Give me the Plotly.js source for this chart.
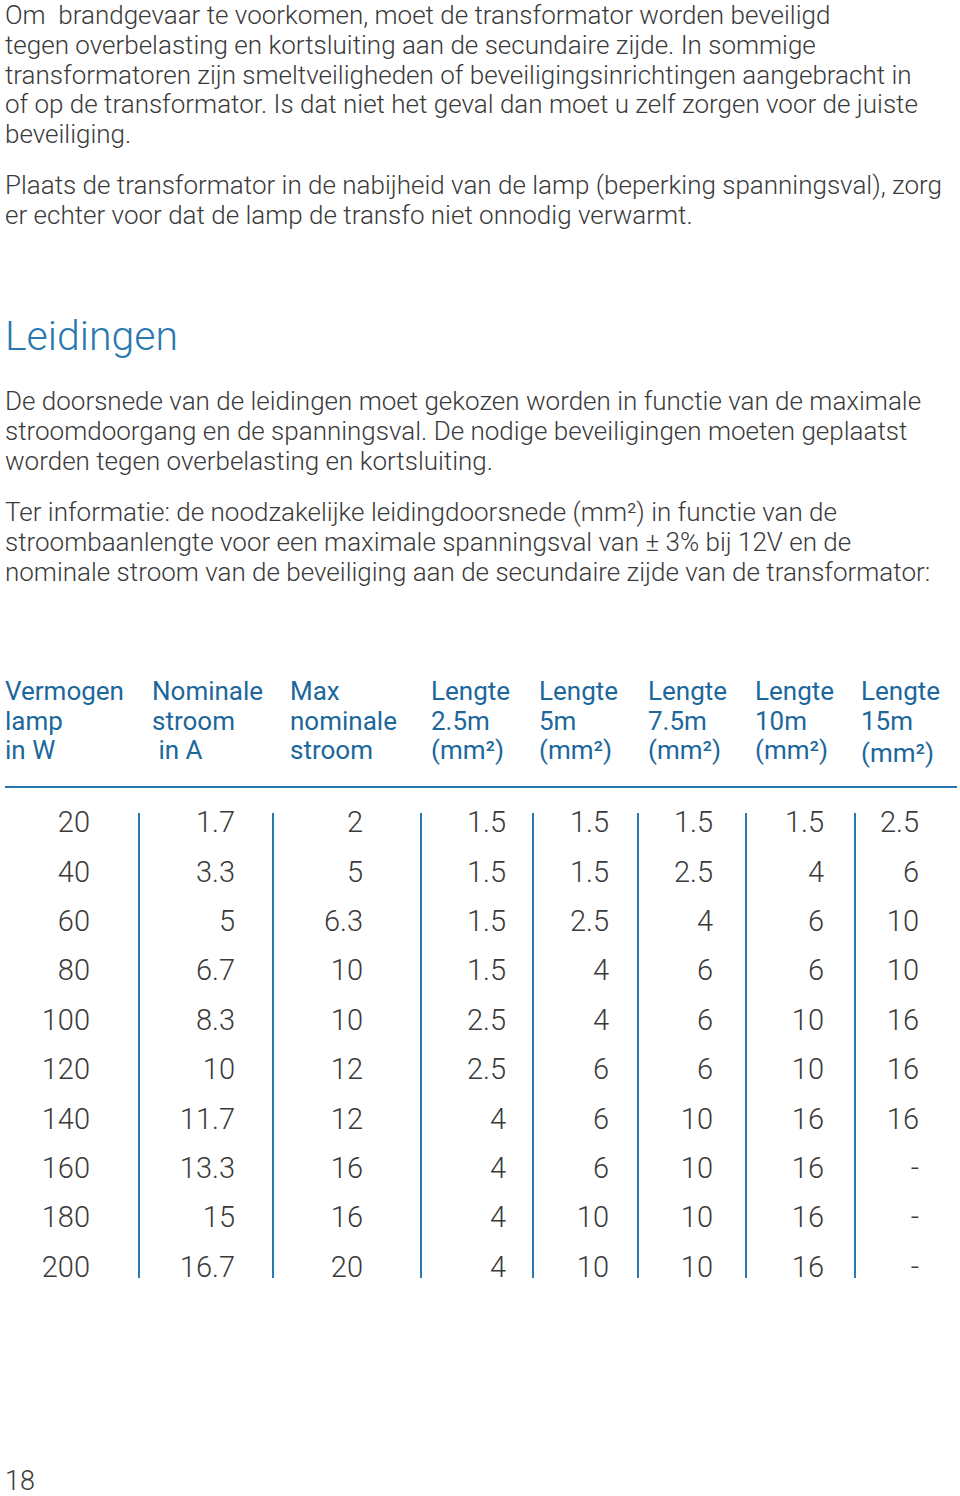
<!DOCTYPE html>
<html>
<head>
<meta charset="utf-8">
<script src="https://cdn.plot.ly/plotly-3.0.1.min.js"></script>
<style>html,body{margin:0;padding:0;background:#fff;}#chart{width:960px;height:1496px;}</style>
</head>
<body>
<div id="chart"></div>
<script>
// ---- text content ----
var para1 = [
  "Om\u00a0 brandgevaar te voorkomen, moet de transformator worden beveiligd",
  "tegen overbelasting en kortsluiting aan de secundaire zijde. In sommige",
  "transformatoren zijn smeltveiligheden of beveiligingsinrichtingen aangebracht in",
  "of op de transformator. Is dat niet het geval dan moet u zelf zorgen voor de juiste",
  "beveiliging."
];
var para2 = [
  "Plaats de transformator in de nabijheid van de lamp (beperking spanningsval), zorg",
  "er echter voor dat de lamp de transfo niet onnodig verwarmt."
];
var heading = "Leidingen";
var para3 = [
  "De doorsnede van de leidingen moet gekozen worden in functie van de maximale",
  "stroomdoorgang en de spanningsval. De nodige beveiligingen moeten geplaatst",
  "worden tegen overbelasting en kortsluiting."
];
var para4 = [
  "Ter informatie: de noodzakelijke leidingdoorsnede (mm\u00b2) in functie van de",
  "stroombaanlengte voor een maximale spanningsval van \u00b1 3% bij 12V en de",
  "nominale stroom van de beveiliging aan de secundaire zijde van de transformator:"
];
var pageNumber = "18";

// ---- table headers ----
var headers = [
  ["Vermogen", "lamp", "in W"],
  ["Nominale", "stroom", "\u00a0in A"],
  ["Max", "nominale", "stroom"],
  ["Lengte", "2.5m", "(mm\u00b2)"],
  ["Lengte", "5m", "(mm\u00b2)"],
  ["Lengte", "7.5m", "(mm\u00b2)"],
  ["Lengte", "10m", "(mm\u00b2)"],
  ["Lengte", "15m", "(mm\u00b2)"]
];

// ---- table data ----
var vermogen   = ["20","40","60","80","100","120","140","160","180","200"];
var nomStroom  = ["1.7","3.3","5","6.7","8.3","10","11.7","13.3","15","16.7"];
var maxStroom  = ["2","5","6.3","10","10","12","12","16","16","20"];
var lengte2_5  = ["1.5","1.5","1.5","1.5","2.5","2.5","4","4","4","4"];
var lengte5    = ["1.5","1.5","2.5","4","4","6","6","6","10","10"];
var lengte7_5  = ["1.5","2.5","4","6","6","6","10","10","10","10"];
var lengte10   = ["1.5","4","6","6","10","10","16","16","16","16"];
var lengte15   = ["2.5","6","10","10","16","16","16","-","-","-"];

// ---- layout / style constants ----
var columns = [vermogen, nomStroom, maxStroom, lengte2_5, lengte5, lengte7_5, lengte10, lengte15];
var colRight = [90, 235, 363, 506, 609, 713, 824, 919];
var headerLeft = [3, 150, 288, 429, 537, 646, 753, 859];
var sepX = [139, 273, 421, 533, 638, 746, 855];
var rowTop = 825, rowStep = 49.4;
var FONT = "Roboto, 'Noto Sans', sans-serif";
var TXT = "#3a3a3a";
var BLUE = "#1c679b";
var LINE = "#2a78b0";

var ann = [];
function addLines(lines, y0, step, size, color, weight) {
  lines.forEach(function (t, i) {
    ann.push({x: 3, y: y0 + i * step, xref: "x", yref: "y", text: t, showarrow: false,
      xanchor: "left", yanchor: "middle",
      font: {family: FONT, size: size, color: color, weight: weight}});
  });
}
addLines(para1, 15, 29.8, 26, TXT, 300);
addLines(para2, 185, 30, 26, TXT, 300);
addLines([heading], 336, 0, 41, LINE, 300);
addLines(para3, 401, 30, 26, TXT, 300);
addLines(para4, 512, 30, 26, TXT, 300);
addLines([pageNumber], 1481, 0, 27, TXT, 300);

headers.forEach(function (h, c) {
  h.forEach(function (t, i) {
    var y = 691 + i * 29.5 + ((c === 7 && i === 2) ? 3 : 0);
    ann.push({x: headerLeft[c], y: y, xref: "x", yref: "y", text: t, showarrow: false,
      xanchor: "left", yanchor: "middle",
      font: {family: FONT, size: 26, color: BLUE, weight: 400}});
  });
});

var traces = columns.map(function (col, c) {
  return {
    type: "scatter", mode: "text",
    x: col.map(function () { return colRight[c]; }),
    y: col.map(function (v, i) { return rowTop + i * rowStep; }),
    text: col, textposition: "middle left",
    textfont: {family: FONT, size: 29, color: TXT, weight: 300},
    hoverinfo: "skip", showlegend: false, cliponaxis: false
  };
});

var shapes = [{type: "line", xref: "x", yref: "y", x0: 5, x1: 957, y0: 787, y1: 787,
  line: {color: LINE, width: 2}}];
sepX.forEach(function (x) {
  shapes.push({type: "line", xref: "x", yref: "y", x0: x, x1: x, y0: 813, y1: 1278,
    line: {color: LINE, width: 2}});
});

var layout = {
  width: 960, height: 1496,
  margin: {l: 0, r: 0, t: 0, b: 0, pad: 0},
  paper_bgcolor: "#ffffff", plot_bgcolor: "#ffffff",
  xaxis: {range: [0, 960], visible: false, fixedrange: true},
  yaxis: {range: [1496, 0], visible: false, fixedrange: true},
  annotations: ann, shapes: shapes, showlegend: false
};
Plotly.newPlot("chart", traces, layout, {displayModeBar: false, staticPlot: true});
</script>
</body>
</html>
